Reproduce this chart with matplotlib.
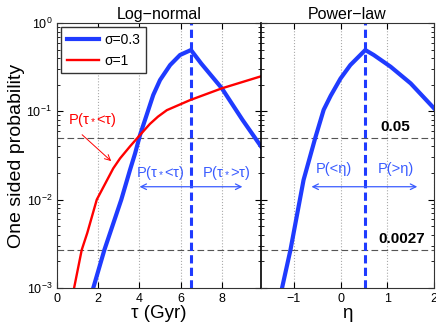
import matplotlib
matplotlib.use('Agg')
import matplotlib.pyplot as plt
from matplotlib.ticker import FixedLocator, LogLocator, NullFormatter

plt.rcParams['font.family'] = ['Liberation Sans', 'DejaVu Sans']
plt.rcParams['mathtext.fontset'] = 'custom'
plt.rcParams['mathtext.rm'] = 'Liberation Sans'
plt.rcParams['mathtext.it'] = 'Liberation Sans:italic'

# values
tau_s03 = [1.76, 2.30, 3.12, 3.54, 3.79, 4.03, 4.35, 4.67, 5.0, 5.49, 5.97, 6.5,
           7.0, 8.0, 9.0, 9.9]
p_s03 = [1e-3, 0.0027, 0.01, 0.0216, 0.0334, 0.054, 0.0908, 0.153, 0.226, 0.334, 0.434, 0.494,
         0.347, 0.182, 0.080, 0.040]

tau_s1 = [0.83, 1.20, 1.47, 1.93, 2.73, 3.06, 3.54, 4.03, 4.51, 4.9, 5.33, 6.46, 8.0, 9.9]
p_s1 = [1e-3, 0.0027, 0.0042, 0.01, 0.0226, 0.0293, 0.040, 0.054, 0.072, 0.087, 0.103, 0.134,
        0.182, 0.249]

eta = [-1.25, -1.07, -0.79, -0.54, -0.36, -0.21, 0.0, 0.21, 0.53, 0.71, 1.07, 1.5, 2.0]
p_eta = [1e-3, 0.0027, 0.0167, 0.05, 0.104, 0.15, 0.235, 0.334, 0.494, 0.434, 0.32, 0.207, 0.108]

tau_peak = 6.5
eta_peak = 0.53
levels = [0.05, 0.0027]
level_labels = ['0.05', '0.0027']

blue = '#1f3bff'
red = '#ff0000'
lblue = '#3a5cff'
gray = '#555555'

fig = plt.figure(figsize=(4.36, 3.28), dpi=100)
ax1 = fig.add_axes([0.1307, 0.122, 0.468, 0.808])
ax2 = fig.add_axes([0.5986, 0.122, 0.397, 0.808])

for ax in (ax1, ax2):
    ax.set_yscale('log')
    ax.set_ylim(1e-3, 1)
    for lv in levels:
        ax.axhline(lv, color=gray, lw=0.8, dashes=[6, 3])
    ax.tick_params(which='both', direction='in', top=True, right=True, labelsize=9)
    ax.tick_params(which='major', length=4)
    ax.tick_params(which='minor', length=2)
    ax.yaxis.set_minor_locator(LogLocator(base=10, subs=range(2, 10)))
    ax.grid(True, axis='x', color='#aaaaaa', ls=':', lw=0.8)
    for s in ax.spines.values():
        s.set_color('#333333')

# left panel: log-normal
ax1.plot(tau_s03, p_s03, color=blue, lw=3, label='σ=0.3', zorder=3)
ax1.plot(tau_s1, p_s1, color=red, lw=1.7, label='σ=1', zorder=3)
ax1.axvline(tau_peak, color=blue, lw=2.2, dashes=[2.7, 1.4], zorder=2)
ax1.set_xlim(0, 9.9)
ax1.xaxis.set_major_locator(FixedLocator([0, 2, 4, 6, 8]))
ax1.yaxis.set_major_locator(FixedLocator([1e-3, 1e-2, 1e-1, 1]))
ax1.set_yticklabels(['$10^{-3}$', '$10^{-2}$', '$10^{-1}$', '$10^{0}$'])
ax1.set_xlabel('τ (Gyr)', fontsize=13.5, labelpad=0)
ax1.set_ylabel('One sided probability', fontsize=14, labelpad=1)
ax1.set_title('Log−normal', fontsize=11.5, pad=3)
ax1.legend(loc='upper left', fontsize=10, handlelength=2.3, handletextpad=0.4,
           borderpad=0.4, borderaxespad=0.3,
           fancybox=False, edgecolor='#333333', framealpha=1)

ax1.text(1.7, 0.0795, 'P(τ$_*$<τ)', color=red, fontsize=10.5, ha='center', va='center')
ax1.annotate('', xy=(2.73, 0.026), xytext=(1.12, 0.057),
             arrowprops=dict(arrowstyle='->', color=red, lw=0.7))
ax1.text(5.0, 0.020, 'P(τ$_*$<τ)', color=lblue, fontsize=10.5, ha='center', va='center')
ax1.text(8.2, 0.020, 'P(τ$_*$>τ)', color=lblue, fontsize=10.5, ha='center', va='center')
ax1.annotate('', xy=(3.87, 0.014), xytext=(9.13, 0.014),
             arrowprops=dict(arrowstyle='<->', color=lblue, lw=0.9))

# right panel: power-law
ax2.plot(eta, p_eta, color=blue, lw=3, zorder=3)
ax2.axvline(eta_peak, color=blue, lw=2.2, dashes=[2.7, 1.4], zorder=2)
ax2.set_xlim(-1.7, 2)
ax2.xaxis.set_major_locator(FixedLocator([-1, 0, 1, 2]))
ax2.yaxis.set_major_locator(FixedLocator([1e-3, 1e-2, 1e-1, 1]))
ax2.yaxis.set_major_formatter(NullFormatter())
ax2.yaxis.set_minor_formatter(NullFormatter())
ax2.set_xlabel('η', fontsize=13.5, labelpad=0)
ax2.set_title('Power−law', fontsize=11.5, pad=3)
ax2.spines['left'].set_color('black')
ax2.spines['left'].set_linewidth(1.2)

ax2.text(-0.15, 0.0225, 'P(<η)', color=lblue, fontsize=10.5, ha='center', va='center')
ax2.text(1.19, 0.0225, 'P(>η)', color=lblue, fontsize=10.5, ha='center', va='center')
ax2.annotate('', xy=(-0.68, 0.014), xytext=(1.7, 0.014),
             arrowprops=dict(arrowstyle='<->', color=lblue, lw=0.9))
ax2.text(1.16, 0.0656, level_labels[0], fontsize=11, fontweight='bold', ha='center', va='center')
ax2.text(1.30, 0.00363, level_labels[1], fontsize=11, fontweight='bold', ha='center', va='center')

fig.savefig('out.png', dpi=100)
